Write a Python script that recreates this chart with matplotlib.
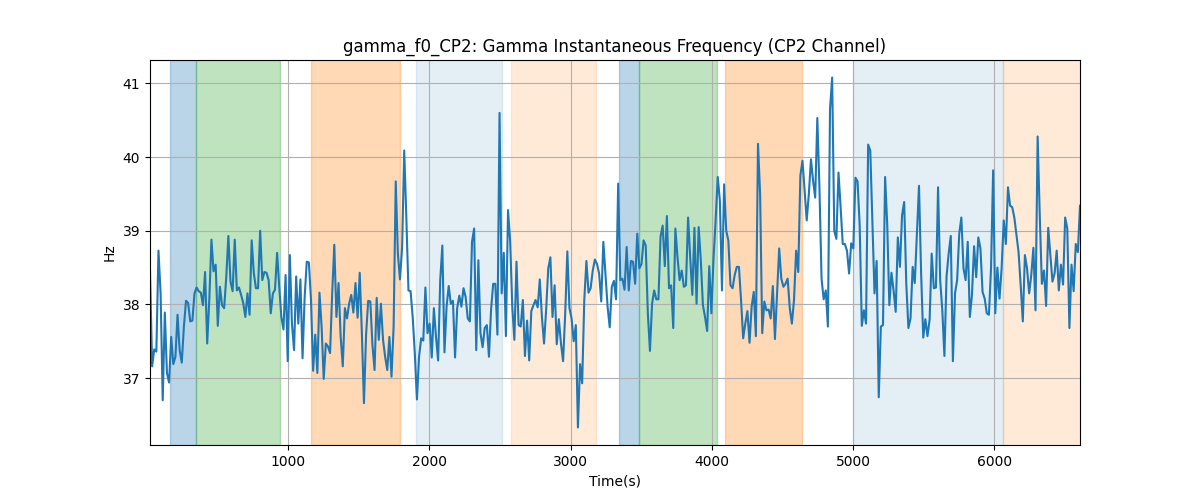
import numpy as np
import matplotlib
matplotlib.use("Agg")
from matplotlib import pyplot as plt

# sampling of the signal (s)
t_start = 22
t_step = 15

freq_hz = [
    # 0 - 850 s
    38.46, 37.16, 37.39, 37.36, 38.73, 38.15, 36.70, 37.89, 37.07, 36.94,
    37.56, 37.19, 37.29, 37.86, 37.38, 37.21, 37.70, 38.05, 38.02, 37.77,
    37.78, 38.15, 38.23, 38.18, 38.16, 37.99, 38.44, 37.47, 38.07, 38.88,
    38.45, 38.54, 37.71, 38.24, 37.99, 37.95, 38.37, 38.93, 38.31, 38.18,
    38.88, 38.19, 38.23, 38.13, 38.02, 37.83, 38.15, 37.86, 38.87, 38.43,
    38.22, 38.22, 39.00, 38.33,
    # 850 - 1700 s
    38.44, 38.43, 38.33, 37.88, 38.15, 38.20, 38.70, 38.24, 37.83, 37.66,
    38.40, 37.23, 38.67, 37.74, 37.38, 38.38, 37.74, 38.34, 37.27, 38.10,
    38.58, 38.57, 38.06, 37.10, 37.59, 37.07, 38.16, 37.70, 36.99, 37.47,
    37.43, 37.34, 38.15, 38.81, 37.83, 38.29, 37.56, 37.16, 37.95, 37.81,
    38.01, 38.13, 37.89, 38.29, 37.82, 38.43, 37.62, 36.66, 37.59, 38.05,
    38.04, 37.45, 37.11, 38.09, 37.52, 38.01,
    # 1700 - 2540 s
    37.52, 37.29, 37.11, 37.56, 37.02, 37.70, 39.67, 38.69, 38.34, 38.77,
    40.09, 39.18, 38.19, 38.18, 37.83, 37.34, 36.71, 37.29, 37.54, 37.51,
    38.23, 37.61, 37.74, 37.28, 37.95, 37.56, 37.24, 38.33, 38.80, 37.35,
    37.97, 38.25, 38.01, 38.05, 37.28, 37.95, 38.12, 37.97, 38.22, 38.10,
    37.81, 37.77, 38.85, 39.03, 37.38, 38.60, 37.61, 37.42, 37.68, 37.72,
    37.29, 37.93, 38.28, 38.28, 37.59, 40.60,
    # 2540 - 3370 s
    38.15, 38.70, 37.57, 39.28, 38.87, 37.97, 37.52, 38.58, 37.72, 37.70,
    38.06, 37.30, 37.78, 37.24, 37.91, 37.99, 38.06, 37.96, 38.34, 37.83,
    37.47, 37.93, 38.49, 38.64, 37.83, 38.26, 37.46, 37.80, 37.47, 37.23,
    37.88, 38.72, 37.95, 37.81, 37.50, 37.72, 36.33, 37.19, 36.93, 38.06,
    38.59, 38.16, 38.22, 38.46, 38.61, 38.55, 38.42, 38.04, 38.85, 38.42,
    37.97, 37.69, 38.24, 38.32, 38.07,
    # 3370 - 4200 s
    39.64, 38.33, 38.35, 38.20, 38.78, 38.19, 38.59, 38.58, 38.28, 38.96,
    38.49, 38.55, 38.87, 38.80, 37.88, 37.37, 38.01, 38.19, 38.07, 38.07,
    38.92, 39.07, 38.52, 39.20, 38.22, 38.26, 37.68, 39.03, 38.64, 38.33,
    38.46, 38.24, 38.26, 39.18, 38.64, 38.13, 39.04, 38.01, 39.05, 38.60,
    37.99, 37.83, 37.64, 38.52, 37.88, 38.62, 39.14, 39.73, 39.41, 38.19,
    39.63, 39.00, 38.87, 38.26, 38.22, 38.40,
    # 4200 - 5040 s
    38.51, 38.51, 38.06, 37.54, 37.74, 37.91, 37.48, 37.97, 38.17, 37.57,
    40.18, 39.50, 37.61, 38.04, 37.92, 37.93, 37.81, 38.25, 37.53, 38.15,
    38.76, 38.35, 38.24, 38.28, 38.35, 37.95, 37.74, 38.06, 38.73, 38.44,
    39.75, 39.95, 39.55, 39.14, 39.50, 39.97, 39.68, 39.45, 40.53, 39.59,
    38.35, 38.07, 38.19, 37.70, 40.65, 41.08, 39.00, 38.89, 39.79, 39.32,
    38.82, 38.82, 38.73, 38.42, 38.83,
    # 5040 - 5880 s
    38.76, 39.72, 39.67, 39.07, 37.71, 37.92, 37.74, 40.17, 40.09, 39.14,
    38.15, 38.59, 36.74, 37.70, 37.72, 39.73, 39.09, 37.99, 38.43, 38.19,
    37.90, 38.91, 38.51, 39.21, 39.39, 38.28, 37.68, 37.81, 38.51, 38.29,
    38.96, 39.61, 38.42, 37.55, 37.80, 37.57, 37.79, 38.69, 38.22, 38.23,
    39.59, 38.33, 37.92, 37.30, 38.38, 38.69, 38.93, 37.23, 38.15, 38.33,
    38.96, 39.18, 38.49, 38.33, 38.85, 37.83,
    # 5880 - end
    38.13, 38.79, 38.37, 38.91, 38.76, 38.17, 38.08, 37.88, 37.86, 38.49,
    39.82, 37.88, 38.50, 38.08, 38.49, 39.14, 38.82, 39.59, 39.34, 39.32,
    39.18, 38.94, 38.71, 38.26, 37.77, 38.67, 38.49, 38.15, 38.40, 38.77,
    37.92, 40.28, 39.21, 38.28, 38.46, 37.98, 39.04, 38.67, 38.31, 38.42,
    38.73, 38.19, 38.54, 38.27, 39.18, 39.03, 37.68, 38.54, 38.18, 38.82,
    38.71, 39.34,
]

time_s = t_start + t_step * np.arange(len(freq_hz))

# shaded task periods: (start, end, colour, alpha)
span_start = [164, 348, 1165, 1903, 2577, 3343, 3485, 4095, 4997, 6061]
span_end = [348, 944, 1789, 2513, 3180, 3485, 4038, 4642, 6061, 6622]
span_color = ["tab:blue", "tab:green", "tab:orange", "tab:blue", "tab:orange",
              "tab:blue", "tab:green", "tab:orange", "tab:blue", "tab:orange"]
span_alpha = [0.3, 0.3, 0.3, 0.12, 0.16, 0.3, 0.3, 0.3, 0.12, 0.16]

fig, ax = plt.subplots(figsize=(12, 5), dpi=100)

for s, e, c, a in zip(span_start, span_end, span_color, span_alpha):
    ax.axvspan(s, e, color=c, alpha=a)

ax.plot(time_s, freq_hz, color="tab:blue")
ax.set_xlim(time_s[0], time_s[-1])
ax.grid(True)
ax.set_title("gamma_f0_CP2: Gamma Instantaneous Frequency (CP2 Channel)")
ax.set_xlabel("Time(s)")
ax.set_ylabel("Hz")

plt.savefig("out.png", dpi=100)
